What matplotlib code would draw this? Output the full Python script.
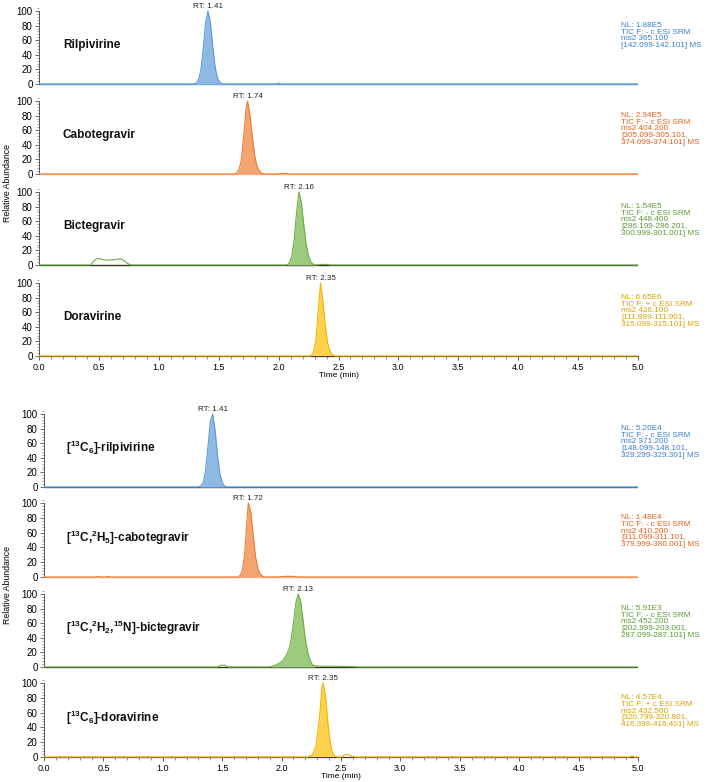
import matplotlib
matplotlib.use("Agg")
import matplotlib.pyplot as plt
from matplotlib.ticker import MultipleLocator
import numpy as np

plt.rcParams['font.family'] = ['Liberation Sans', 'DejaVu Sans']
plt.rcParams['mathtext.fontset'] = 'custom'
plt.rcParams['mathtext.rm'] = 'Liberation Sans'
plt.rcParams['mathtext.bf'] = 'Liberation Sans:bold'
plt.rcParams['mathtext.default'] = 'bf'

# ---- data ----
names = ['Rilpivirine', 'Cabotegravir', 'Bictegravir', 'Doravirine',
         '[$^{13}$C$_6$]-rilpivirine', '[$^{13}$C,$^2$H$_5$]-cabotegravir',
         '[$^{13}$C,$^2$H$_2$,$^{15}$N]-bictegravir', '[$^{13}$C$_6$]-doravirine']
rt_labels = ['RT: 1.41', 'RT: 1.74', 'RT: 2.16', 'RT: 2.35',
             'RT: 1.41', 'RT: 1.72', 'RT: 2.13', 'RT: 2.35']
info = [
    'NL: 1.88E5\nTIC F: - c ESI SRM\nms2 365.100\n[142.099-142.101] MS',
    'NL: 2.94E5\nTIC F: - c ESI SRM\nms2 404.200\n[305.099-305.101,\n374.099-374.101] MS',
    'NL: 1.54E5\nTIC F: - c ESI SRM\nms2 448.400\n[286.199-286.201,\n300.999-301.001] MS',
    'NL: 6.65E6\nTIC F: + c ESI SRM\nms2 426.100\n[111.899-111.901,\n315.099-315.101] MS',
    'NL: 5.20E4\nTIC F: - c ESI SRM\nms2 371.200\n[148.099-148.101,\n329.299-329.301] MS',
    'NL: 1.48E4\nTIC F: - c ESI SRM\nms2 410.200\n[311.099-311.101,\n379.999-380.001] MS',
    'NL: 5.91E3\nTIC F: - c ESI SRM\nms2 452.200\n[202.999-203.001,\n287.099-287.101] MS',
    'NL: 4.57E4\nTIC F: + c ESI SRM\nms2 432.500\n[320.799-320.801,\n416.399-416.401] MS',
]

rilpi_t = [0.0, 1.29, 1.31, 1.33, 1.35, 1.37, 1.39, 1.41, 1.43, 1.45, 1.47, 1.49, 1.51, 1.53, 1.55,
           1.98, 2.00, 2.02, 5.0]
rilpi_y = [0, 0, 1, 5, 18, 47, 83, 100, 85, 52, 23, 8, 2, 0.5, 0, 0, 1.2, 0, 0]

cabo_t = [0.0, 1.63, 1.65, 1.67, 1.69, 1.71, 1.73, 1.74, 1.76, 1.78, 1.80, 1.82, 1.84, 1.86, 1.88,
          1.99, 2.02, 2.06, 2.09, 5.0]
cabo_y = [0, 0, 1.5, 6, 20, 55, 92, 100, 82, 52, 26, 10, 4, 1, 0, 0, 0.8, 0.8, 0, 0]

bict_t = [0.0, 0.43, 0.46, 0.49, 0.52, 0.56, 0.60, 0.64, 0.68, 0.71, 0.74, 0.77,
          2.07, 2.09, 2.11, 2.13, 2.15, 2.17, 2.19, 2.21, 2.23, 2.25, 2.27, 2.29, 2.31,
          2.36, 2.40, 2.44, 5.0]
bict_y = [0, 0, 6, 9, 8, 6.5, 7, 7.5, 8.5, 6, 2, 0,
          0, 3, 12, 35, 72, 100, 85, 55, 28, 12, 4, 1, 0, 0.8, 0.8, 0, 0]

dora_t = [0.0, 2.27, 2.29, 2.31, 2.33, 2.35, 2.37, 2.39, 2.41, 2.43, 2.45, 2.47, 5.0]
dora_y = [0, 0, 5, 20, 60, 100, 75, 40, 17, 6, 1.5, 0, 0]

is_rilpi_t = [0.0, 1.30, 1.32, 1.34, 1.36, 1.38, 1.40, 1.42, 1.44, 1.46, 1.48, 1.50, 1.52, 1.54, 5.0]
is_rilpi_y = [0, 0, 1.5, 6, 22, 55, 90, 100, 78, 44, 18, 6, 1.5, 0, 0]

is_cabo_t = [0.0, 0.44, 0.46, 0.48, 0.52, 0.54, 0.56, 1.63, 1.65, 1.67, 1.69, 1.71, 1.72, 1.74,
             1.76, 1.78, 1.80, 1.82, 1.84, 1.86, 1.96, 2.02, 2.10, 2.14, 5.0]
is_cabo_y = [0, 0, 0.8, 0, 0, 0.8, 0, 0, 2, 9, 32, 80, 100, 88, 58, 28, 11, 4, 1, 0,
             0, 0.9, 0.9, 0, 0]

is_bict_t = [0.0, 1.46, 1.49, 1.52, 1.55, 1.90, 1.94, 1.98, 2.01, 2.04, 2.07, 2.10, 2.12, 2.14,
             2.16, 2.18, 2.20, 2.22, 2.24, 2.26, 2.28, 2.35, 2.45, 2.60, 2.65, 5.0]
is_bict_y = [0, 0, 2.5, 2.5, 0, 0, 2, 5, 9, 16, 28, 60, 88, 100, 90, 65, 38, 20, 9, 3, 1.5,
             1, 1, 0.5, 0, 0]

is_dora_t = [0.0, 2.22, 2.26, 2.29, 2.32, 2.34, 2.35, 2.37, 2.39, 2.41, 2.43, 2.45, 2.47,
             2.50, 2.53, 2.56, 2.59, 2.62, 4.93, 4.95, 4.97, 5.0]
is_dora_y = [0, 0, 3, 15, 55, 95, 100, 82, 45, 18, 5, 1, 0, 0, 3, 3.5, 1, 0, 0, 1.5, 0, 0]

traces = [(rilpi_t, rilpi_y), (cabo_t, cabo_y), (bict_t, bict_y), (dora_t, dora_y),
          (is_rilpi_t, is_rilpi_y), (is_cabo_t, is_cabo_y), (is_bict_t, is_bict_y),
          (is_dora_t, is_dora_y)]
# integration windows (filled part of each trace)
windows = [(1.29, 1.55), (1.63, 1.88), (2.07, 2.31), (2.27, 2.47),
           (1.30, 1.54), (1.63, 1.86), (1.90, 2.30), (2.22, 2.47)]

# ---- styles ----
edge_c = ['#5B9BD5', '#ED7D31', '#70AD47', '#F2B600']
fill_c = ['#8FB9E4', '#F4A470', '#9DCB7E', '#FFD24D']
text_c = ['#3A7FD0', '#E2601C', '#5A9A36', '#D9A300']
base_top = ['#5B9BD5', '#F4B183', '#2E3A26', '#8A6A2A']
base_bot = ['#2F5597', '#F4B183', '#2E3A26', '#8A6A2A']

W, H = 709, 782
fig = plt.figure(figsize=(W / 100, H / 100), dpi=100)

# pixel rows of the 100 and 0 levels for each panel
levels = [(11, 84), (101, 174), (192, 265), (283, 356),
          (414, 487), (503, 577), (594, 667), (683, 757)]
xpix = [(39, 638)] * 4 + [(44, 638)] * 4

for i in range(8):
    y100, y0 = levels[i]
    x0, x1 = xpix[i]
    s = (y0 - y100) / 100.0
    top = y100 - 4 * s
    bot = y0 + 3 * s
    ax = fig.add_axes([x0 / W, 1 - bot / H, (x1 - x0) / W, (bot - top) / H])
    ax.set_xlim(0, 5)
    ax.set_ylim(-3, 104)
    k = i % 4
    t, y = traces[i]
    t = np.array(t)
    y = np.array(y)
    w0, w1 = windows[i]
    inside = (t >= w0) & (t <= w1)
    ax.fill_between(t, 0, y, where=inside, color=fill_c[k], lw=0, zorder=2)
    ax.plot(t, y, color=edge_c[k], lw=0.8, zorder=3)
    base_c = base_top[k] if i < 4 else base_bot[k]
    ax.plot([0, 5], [0, 0], color=base_c, lw=1.0, zorder=1)

    for sp in ['top', 'right']:
        ax.spines[sp].set_visible(False)
    ax.spines['left'].set_bounds(0, 100)
    ax.spines['left'].set_color('#555555')
    ax.spines['left'].set_linewidth(0.7)
    ax.yaxis.set_major_locator(MultipleLocator(20))
    ax.yaxis.set_minor_locator(MultipleLocator(4))
    ax.tick_params(axis='y', which='major', labelsize=7, length=3, width=0.6,
                   color='#555555', pad=1.5)
    ax.tick_params(axis='y', which='minor', length=1.8, width=0.5, color='#777777')

    if k == 3:
        ax.spines['bottom'].set_position(('data', 0))
        ax.spines['bottom'].set_color('#444444')
        ax.spines['bottom'].set_linewidth(0.7)
        ax.xaxis.set_major_locator(MultipleLocator(0.5))
        ax.xaxis.set_minor_locator(MultipleLocator(0.1))
        ax.tick_params(axis='x', which='major', labelsize=6.5, length=3, width=0.6,
                       color='#444444', pad=2)
        ax.tick_params(axis='x', which='minor', length=2, width=0.5, color='#666666')
        ax.set_xticklabels([f'{v:.1f}' for v in ax.get_xticks()])
        ax.set_xlabel('Time (min)', fontsize=6, labelpad=0)
    else:
        ax.spines['bottom'].set_visible(False)
        ax.set_xticks([])

    # peak apex from the trace
    apex = t[np.argmax(y)]
    ax.text(apex, 102, rt_labels[i], fontsize=5.8, ha='center', va='bottom', color='#222222')
    ax.text(0.2 if i < 4 else 0.185, 53, names[i], fontsize=8.5, fontweight='bold',
            ha='left', va='center', color='#111111')
    ax.text(4.86, 85, info[i], fontsize=5.9, ha='left', va='top', color=text_c[k],
            linespacing=0.95, clip_on=False)

fig.text(8 / W, 1 - 183 / H, 'Relative Abundance', rotation=90, fontsize=6.3,
         ha='center', va='center')
fig.text(8 / W, 1 - 585 / H, 'Relative Abundance', rotation=90, fontsize=6.3,
         ha='center', va='center')

fig.savefig('out.png', dpi=100)
